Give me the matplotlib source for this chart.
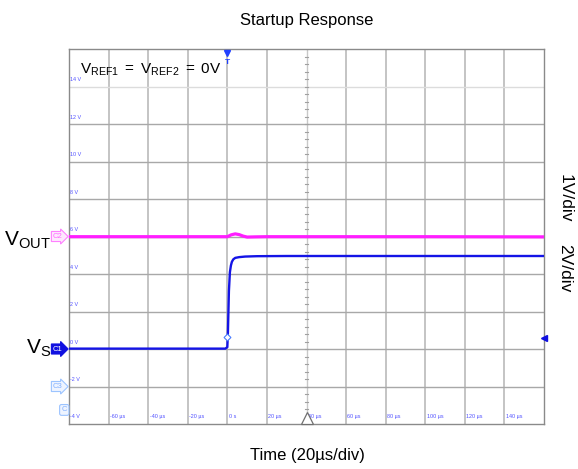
import matplotlib
matplotlib.use("Agg")
import matplotlib.pyplot as plt
import numpy as np

plt.rcParams["font.family"] = ["Liberation Sans", "DejaVu Sans"]
plt.rcParams["mathtext.fontset"] = "custom"
plt.rcParams["mathtext.rm"] = "Liberation Sans"
plt.rcParams["mathtext.it"] = "Liberation Sans"

# ---------------------------------------------------------------- data
# screen volts (2 V per division grid), time in microseconds
time_ticks = [-80, -60, -40, -20, 0, 20, 40, 60, 80, 100, 120, 140, 160]
time_labels = ["", "-60 µs", "-40 µs", "-20 µs", "0 s", "20 µs", "40 µs",
               "60 µs", "80 µs", "100 µs", "120 µs", "140 µs", ""]
volt_ticks = [-4, -2, 0, 2, 4, 6, 8, 10, 12, 14, 16]
volt_labels = ["-4 V", "-2 V", "0 V", "2 V", "4 V", "6 V", "8 V",
               "10 V", "12 V", "14 V", ""]

vs_t = [-80, -1, 0.0, 0.3, 0.8, 1.3, 1.8, 2.3, 3.0, 4.0, 6.0, 9.0, 15.0,
        30.0, 60.0, 100.0, 160.0]
vs_v = [0.02, 0.02, 0.1, 0.9, 3.1, 4.1, 4.45, 4.65, 4.78, 4.86, 4.9, 4.93,
        4.95, 4.96, 4.96, 4.96, 4.96]

vout_t = [-80, -10, 0, 2, 4, 6, 8, 10, 14, 20, 60, 100, 160]
vout_v = [5.99, 5.99, 5.99, 6.09, 6.14, 6.10, 6.02, 5.97, 5.98, 5.99,
          5.99, 5.99, 5.98]

trig_t, trig_v = 0.0, 0.65

BLUE = "#1414e6"
MAGENTA = "#ff1eff"
LABEL_BLUE = "#5050ff"

fig = plt.figure(figsize=(5.78, 4.69), dpi=100)
ax = fig.add_axes([69 / 578, 1 - 424 / 469, 475 / 578, 375 / 469])
ax.set_xlim(-80, 160)
ax.set_ylim(-4, 16)
ax.set_xticks([])
ax.set_yticks([])
for sp in ax.spines.values():
    sp.set_color("#8a8a8a")
    sp.set_linewidth(1.0)

# grid
for t in time_ticks[1:-1]:
    if t == 40:
        ax.axvline(t, color="#c8c8c8", lw=1.0, zorder=1)
    else:
        ax.axvline(t, color="#b4b4b4", lw=1.1, zorder=1)
for v in volt_ticks[1:-1]:
    c = "#dcdcdc" if v == 14 else "#a8a8a8"
    ax.axhline(v, color=c, lw=1.0, zorder=1)

# centre line tick marks
for v in np.arange(-4, 16, 0.4):
    ax.plot([39.3, 40.7], [v, v], color="#a0a0a0", lw=0.8, zorder=1)

# small blue scale labels
for v, lab in zip(volt_ticks, volt_labels):
    if not lab:
        continue
    y = v + 0.35 if v > -4 else -3.58
    ax.text(-79.3, y, lab, fontsize=3.9, color=LABEL_BLUE, va="center", ha="left")
for t, lab in zip(time_ticks, time_labels):
    if not lab:
        continue
    ax.text(t + 0.7, -3.58, lab, fontsize=3.9, color=LABEL_BLUE, va="center", ha="left")

# traces
ax.plot(vout_t, vout_v, color=MAGENTA, lw=2.3, zorder=4, solid_capstyle="butt")
ax.plot(vs_t, vs_v, color=BLUE, lw=1.7, zorder=5, solid_capstyle="butt")
ax.plot([trig_t], [trig_v], marker="D", ms=3.5, mfc="white", mec="#4a7cff",
        mew=0.8, zorder=6)

# trigger position marker at top
ax.plot([0], [15.8], marker="v", ms=4.5, color="#2040ff", clip_on=False, zorder=7)
ax.text(0, 15.3, "T", fontsize=6, color="#2040ff", ha="center", va="center",
        fontweight="bold", zorder=7)
# trigger level marker on right
ax.plot([160], [0.6], marker="<", ms=5, color="#1010e0", clip_on=False, zorder=7)
# horizontal position marker at bottom
ax.plot([40], [-3.7], marker="^", ms=8, mfc="white", mec="#707070", mew=0.9,
        clip_on=False, zorder=7)

# channel markers on the left
box = dict(boxstyle="rarrow,pad=0.2", lw=0.8)
ax.text(-83.2, 6.0, "C2", fontsize=5.5, color="#ff66ff", ha="right", va="center",
        bbox=dict(box, fc="#fde8fd", ec="#ff80ff"))
ax.text(-83.2, 0.0, "C1", fontsize=5.5, color="white", ha="right", va="center",
        bbox=dict(box, fc="#1010e0", ec="#1010e0"))
ax.text(-83.2, -2.0, "C3", fontsize=5.5, color="#80b0ff", ha="right", va="center",
        bbox=dict(box, fc="#eef4ff", ec="#9cc4ff"))
ax.text(-81.0, -3.25, "C", fontsize=5.5, color="#80b0ff", ha="right", va="center",
        bbox=dict(boxstyle="round,pad=0.25", fc="#eef4ff", ec="#9cc4ff", lw=0.8))

# annotations
ax.text(-74.5, 14.9, r"$\mathregular{V_{REF1}\ =\ V_{REF2}\ =\ 0V}$", fontsize=11,
        ha="left", va="center")
fig.text(51 / 578, 1 - 240 / 469, r"$\mathregular{V_{OUT}}$", fontsize=15,
         ha="right", va="center")
fig.text(51 / 578, 1 - 348 / 469, r"$\mathregular{V_{S}}$", fontsize=15,
         ha="right", va="center")
fig.text(307 / 578, 1 - 20 / 469, "Startup Response", fontsize=12,
         ha="center", va="center")
fig.text(307 / 578, 1 - 455 / 469, "Time (20µs/div)", fontsize=12,
         ha="center", va="center")
fig.text(565 / 578, 1 - 198 / 469, "1V/div", fontsize=12.5, rotation=270,
         ha="center", va="center")
fig.text(565 / 578, 1 - 268 / 469, "2V/div", fontsize=12.5, rotation=270,
         ha="center", va="center")

fig.savefig("out.png", dpi=100, facecolor="white")
